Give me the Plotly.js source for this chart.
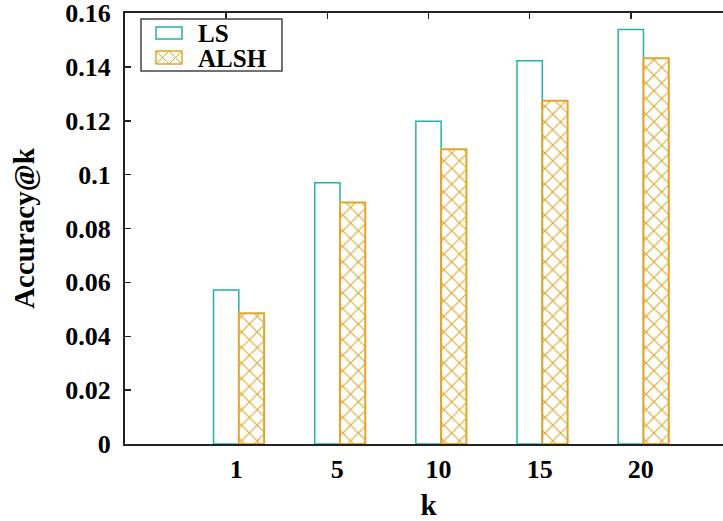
<!DOCTYPE html>
<html>
<head>
<meta charset="utf-8">
<script src="https://cdn.plot.ly/plotly-3.0.1.min.js"></script>
<style>
html,body{margin:0;padding:0;overflow:hidden;background:#fff;}
#chart{width:732px;height:521px;}
</style>
</head>
<body>
<div id="chart"></div>
<script>
// ---- data ----
const categories = ['1', '5', '10', '15', '20'];
const lsValues = [0.0572, 0.0970, 0.1198, 0.1423, 0.1539];
const alshValues = [0.0485, 0.0897, 0.1094, 0.1274, 0.1432];
const seriesNames = ['LS', 'ALSH'];
const yTicks = [0, 0.02, 0.04, 0.06, 0.08, 0.1, 0.12, 0.14, 0.16];

// ---- styles ----
const LS_COLOR = '#22b2a8';
const ALSH_COLOR = '#dfa62a';
const FONT = 'Liberation Serif, Times New Roman, serif';
const W = 732, H = 521;
const M = {l: 125, r: 0, t: 13, b: 77};
const BARW = 0.25;

const pos = categories.map((c, i) => i);

const traces = [
  {
    type: 'bar', name: seriesNames[0],
    x: pos, y: lsValues, width: BARW,
    marker: {color: 'rgba(255,255,255,0)', line: {color: LS_COLOR, width: 1.5}},
    showlegend: false, hoverinfo: 'y'
  },
  {
    type: 'bar', name: seriesNames[1],
    x: pos.map(p => p + BARW), y: alshValues, width: BARW,
    marker: {color: '#ffffff', line: {color: ALSH_COLOR, width: 2},
             pattern: {shape: 'x', fgcolor: ALSH_COLOR, bgcolor: '#ffffff', size: 11, solidity: 0.2}},
    showlegend: false, hoverinfo: 'y'
  }
];

// pixel -> paper helpers for the hand-drawn legend
const pw = W - M.l - M.r, ph = H - M.t - M.b;
const px = v => (v - M.l) / pw;
const py = v => 1 - (v - M.t) / ph;

const legendBox = {x0: 141, y0: 19, x1: 282, y1: 71};
const sampleRows = [{y0: 27, y1: 39, ty: 33}, {y0: 51, y1: 64, ty: 58}];
const sx0 = 156, sx1 = 182, sxm = 169;

const shapes = [
  {type: 'rect', xref: 'paper', yref: 'paper', x0: px(legendBox.x0), x1: px(legendBox.x1),
   y0: py(legendBox.y0), y1: py(legendBox.y1), line: {color: '#444', width: 1.5}, fillcolor: '#fff'},
  {type: 'rect', xref: 'paper', yref: 'paper', x0: px(sx0), x1: px(sx1),
   y0: py(sampleRows[0].y0), y1: py(sampleRows[0].y1), line: {color: LS_COLOR, width: 1.5}},
  {type: 'rect', xref: 'paper', yref: 'paper', x0: px(sx0), x1: px(sx1),
   y0: py(sampleRows[1].y0), y1: py(sampleRows[1].y1), line: {color: ALSH_COLOR, width: 1.5}},
];
// X hatch in the ALSH sample
[[sx0, sxm], [sxm, sx1]].forEach(([a, b]) => {
  shapes.push({type: 'line', xref: 'paper', yref: 'paper', x0: px(a), x1: px(b),
    y0: py(sampleRows[1].y0), y1: py(sampleRows[1].y1), line: {color: ALSH_COLOR, width: 1}});
  shapes.push({type: 'line', xref: 'paper', yref: 'paper', x0: px(a), x1: px(b),
    y0: py(sampleRows[1].y1), y1: py(sampleRows[1].y0), line: {color: ALSH_COLOR, width: 1}});
});

const annotations = seriesNames.map((n, i) => ({
  text: '<b>' + n + '</b>', xref: 'paper', yref: 'paper', x: px(196), y: py(sampleRows[i].ty),
  xanchor: 'left', yanchor: 'middle', showarrow: false,
  font: {family: FONT, size: 25, color: '#000'}
}));

const layout = {
  width: W, height: H,
  margin: M,
  paper_bgcolor: '#fff', plot_bgcolor: '#fff',
  barmode: 'overlay',
  font: {family: FONT, color: '#000'},
  xaxis: {
    range: [-1, 5], tickvals: pos, ticktext: categories.map(c => '<b>' + c + '</b>'),
    ticks: '', ticklabelshift: 10, ticklabelstandoff: 1,
    tickfont: {family: FONT, size: 26, color: '#000'},
    showline: true, linecolor: '#222', linewidth: 2, showgrid: false, zeroline: false,
    title: {text: '<b>k</b>', font: {family: FONT, size: 29, color: '#000'}, standoff: 24}
  },
  xaxis2: {
    overlaying: 'x', matches: 'x', side: 'top', range: [-1, 5], tickvals: pos,
    ticks: 'inside', ticklen: 6, tickwidth: 1.5, tickcolor: '#222', showticklabels: false,
    showline: true, linecolor: '#222', linewidth: 2, showgrid: false, zeroline: false
  },
  yaxis: {
    range: [0, 0.16001], tickvals: yTicks, ticktext: yTicks.map(v => '<b>' + v + '</b>'),
    ticks: 'inside', ticklen: 6, tickwidth: 1.5, tickcolor: '#222',
    ticklabelstandoff: 7, ticklabeloverflow: 'allow',
    tickfont: {family: FONT, size: 26, color: '#000'},
    showline: true, linecolor: '#222', linewidth: 2, showgrid: false, zeroline: false,
    title: {text: '<b>Accuracy@k</b>', font: {family: FONT, size: 29, color: '#000'}, standoff: 22}
  },
  shapes: shapes,
  annotations: annotations,
  showlegend: false
};

// dummy trace to activate the top axis
traces.push({type: 'scatter', x: [], y: [], xaxis: 'x2', yaxis: 'y', showlegend: false, hoverinfo: 'skip'});

Plotly.newPlot('chart', traces, layout, {staticPlot: true});
</script>
</body>
</html>
